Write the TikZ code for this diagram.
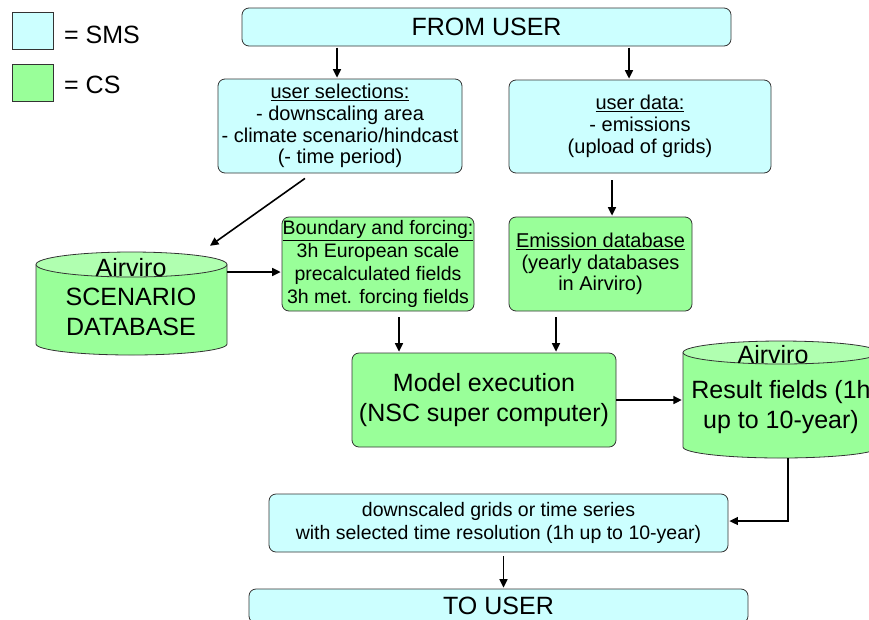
\documentclass[tikz,border=0pt]{standalone}
\usepackage{fontspec}
\setmainfont{Liberation Sans}
\usetikzlibrary{arrows.meta,calc}
\definecolor{sms}{HTML}{CCFFFF}
\definecolor{cs}{HTML}{99FF99}
\definecolor{cstop}{HTML}{B0FFB0}
\definecolor{bord}{HTML}{333333}
\begin{document}
\begin{tikzpicture}[x=1pt,y=1pt,
  box/.style={draw=bord, line width=0.8pt, rounded corners=7pt, inner sep=0pt, align=center},
  smsbox/.style={box, fill=sms},
  csbox/.style={box, fill=cs},
  legbox/.style={draw=bord, line width=0.8pt, inner sep=0pt, minimum width=41pt, minimum height=37pt},
  arr/.style={line width=1.6pt, -{Triangle[length=8.5pt,width=8pt]}},
  big/.style={font=\fontsize{25}{30}\selectfont},
  small/.style={font=\fontsize{20}{21.7}\selectfont},
  ghost/.style={inner sep=0pt, draw=none},
  cyl/.style={draw=bord, line width=0.8pt}
  ]
\clip (0,0) rectangle (869,-619);
\path[use as bounding box] (0,0) rectangle (869,-619);

% legend
\node[legbox, fill=sms] (lsms) at (32.5,-30.5) {};
\node[legbox, fill=cs] (lcs) at (32.5,-83) {};
\node[big, ghost, anchor=west] (tsms) at (64,-35) {= SMS};
\node[big, ghost, anchor=west] (tcs) at (64,-85) {= CS};

% boxes
\node[smsbox, big, minimum width=489pt, minimum height=38pt] (from) at (486.5,-27) {FROM USER};
\node[smsbox, small, minimum width=244pt, minimum height=94pt] (usel) at (340,-126)
  {\underline{user selections:}\\- downscaling area\\- climate scenario/hindcast\\(- time period)};
\node[smsbox, small, minimum width=262pt, minimum height=93pt] (udata) at (640,-126.5)
  {\underline{user data:}\\- emissions\\(upload of grids)};
\node[csbox, font=\fontsize{19.5}{22.7}\selectfont, minimum width=192pt, minimum height=94pt] (bound) at (378,-264)
  {\underline{Boundary and forcing:}\\3h European scale\\precalculated fields\\3h met. forcing fields};
\node[csbox, small, minimum width=183pt, minimum height=94pt] (emis) at (600.5,-264)
  {\underline{Emission database}\\(yearly databases\\in Airviro)};
\node[csbox, big, minimum width=264pt, minimum height=94pt] (model) at (484,-400)
  {Model execution\\(NSC super computer)};
\node[smsbox, font=\fontsize{19.5}{23}\selectfont, minimum width=459pt, minimum height=58pt] (down) at (498.5,-523)
  {downscaled grids or time series\\with selected time resolution (1h up to 10-year)};
\node[smsbox, big, minimum width=499pt, minimum height=34pt] (touser) at (498.5,-606) {TO USER};

% scenario cylinder
\fill[cs] (36,-264.5) -- (36,-344) arc[start angle=180, end angle=360, x radius=95.5pt, y radius=11pt] -- (227,-264.5) -- cycle;
\draw[cyl] (36,-264.5) -- (36,-344) arc[start angle=180, end angle=360, x radius=95.5pt, y radius=11pt] -- (227,-264.5);
\draw[cyl, fill=cstop] (131.5,-264.5) ellipse [x radius=95.5pt, y radius=12.5pt];
\node[ghost, minimum width=191pt, minimum height=103pt] (scen) at (131.5,-303.5) {};
\node[big, ghost, align=center, font=\fontsize{25}{29.5}\selectfont] (scentext) at (131,-297) {Airviro\\SCENARIO\\DATABASE};

% result cylinder
\fill[cs] (683,-352.5) -- (683,-447) arc[start angle=180, end angle=360, x radius=98pt, y radius=11pt] -- (879,-352.5) -- cycle;
\draw[cyl] (683,-352.5) -- (683,-447) arc[start angle=180, end angle=360, x radius=98pt, y radius=11pt] -- (879,-352.5);
\draw[cyl, fill=cstop] (781,-352.5) ellipse [x radius=98pt, y radius=11.5pt];
\node[ghost, minimum width=196pt, minimum height=116pt] (res) at (781,-400) {};
\node[big, ghost] (restop) at (773,-355) {Airviro};
\node[big, ghost, align=center] (restext) at (781,-407) {Result fields (1h\\up to 10-year)};

% connectors
\draw[arr] ($(usel.north)+(-3,31)$) -- ($(usel.north)+(-3,1)$);
\draw[arr] ($(udata.north)+(-11,32)$) -- ($(udata.north)+(-11,1)$);
\draw[arr] ($(udata.south)+(-28,-7)$) -- ($(emis.north)+(11.5,1)$);
\coordinate (dstart) at ($(usel.south)+(-35,-5)$);
\coordinate (dend) at ($(scen.north)+(78.5,6)$);
\draw[arr] (dstart) -- (dend);
\draw[arr] ($(scen.east)+(0,31.5)$) -- ($(bound.west)+(-1,-8)$);
\draw[arr] ($(bound.south)+(21,-6)$) -- ($(model.north)+(-85,1)$);
\draw[arr] ($(emis.south)+(-44.5,-6)$) -- ($(model.north)+(72,1)$);
\draw[arr] (model.east) -- ($(res.west)+(-1,0)$);
\draw[line width=1.3pt, -{Triangle[length=8.5pt,width=8pt]}] ($(res.south)+(7,0)$) |- ($(down.east)+(1,2)$);
\draw[arr] ($(down.south)+(5,-4)$) -- ($(touser.north)+(5,1)$);
\end{tikzpicture}
\end{document}
